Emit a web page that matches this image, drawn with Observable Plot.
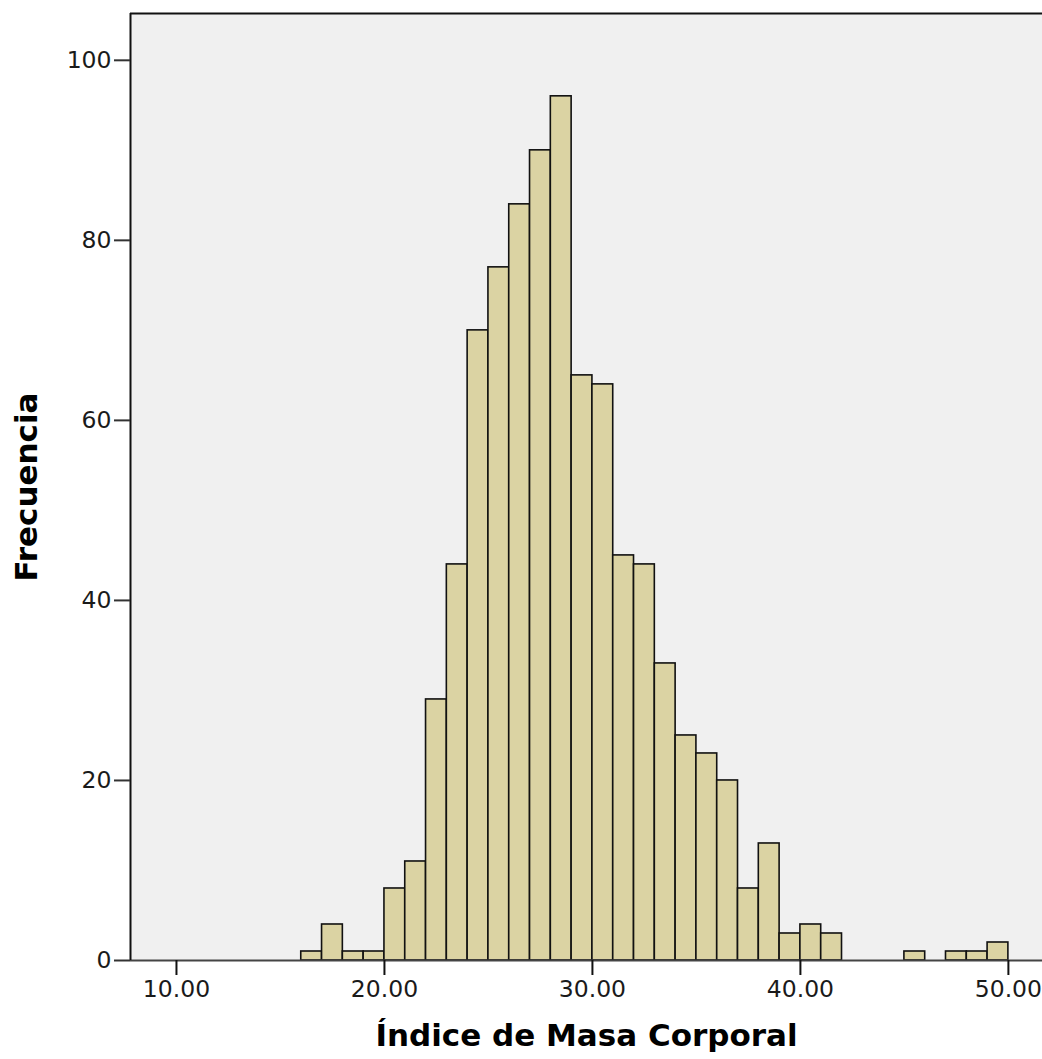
<!DOCTYPE html>
<html>
<head>
<meta charset="utf-8">
<script src="https://cdn.jsdelivr.net/npm/d3@7"></script>
<script src="https://cdn.jsdelivr.net/npm/@observablehq/plot@0.6"></script>
<style>
  html, body { margin: 0; padding: 0; background: #ffffff; }
  #chart svg { display: block; }
</style>
</head>
<body>
<div id="chart"></div>
<script>
// Bin lower edges (bin width = 1) and frequencies
const binStart = [16,17,18,19,20,21,22,23,24,25,26,27,28,29,30,31,32,33,34,35,36,37,38,39,40,41,42,43,44,45,46,47,48,49];
const counts   = [ 1, 4, 1, 1, 8,11,29,44,70,77,84,90,96,65,64,45,44,33,25,23,20, 8,13, 3, 4, 3, 0, 0, 0, 1, 0, 1, 1, 2];
const binWidth = 1;

const xTicks = [10, 20, 30, 40, 50];
const yTicks = [0, 20, 40, 60, 80, 100];
const xDomain = [7.79, 51.64];
const yDomain = [0, 105.2];

const xTitle = "Índice de Masa Corporal";
const yTitle = "Frecuencia";

const bins = binStart.map((b, i) => ({x1: b, x2: b + binWidth, count: counts[i]}))
  .filter(d => d.count > 0);

const fmt = d3.format(".2f");

const chart = Plot.plot({
  width: 1042,
  height: 1059,
  marginLeft: 130,
  marginRight: 0,
  marginTop: 13,
  marginBottom: 99,
  style: {fontFamily: "DejaVu Sans", fontSize: "23.5px", color: "#1a1a1a", background: "#ffffff"},
  x: {domain: xDomain, ticks: xTicks, tickFormat: fmt},
  y: {domain: yDomain, ticks: yTicks},
  marks: [
    Plot.frame({fill: "#f0f0f0", stroke: null}),
    Plot.rectY(bins, {x1: "x1", x2: "x2", y: "count", fill: "#dbd3a3", stroke: "#111", strokeWidth: 1.6}),
    Plot.ruleY([0], {stroke: "#444", strokeWidth: 2}),
    Plot.ruleX([xDomain[0]], {stroke: "#111", strokeWidth: 2}),
    Plot.ruleY([yDomain[1]], {stroke: "#111", strokeWidth: 2}),
    Plot.axisX({ticks: xTicks, tickFormat: fmt, tickSize: 15, tickPadding: 5, label: null, stroke: "#111", strokeWidth: 2, fontSize: 23.5}),
    Plot.axisY({ticks: yTicks, tickSize: 16, tickPadding: 3, label: null, stroke: "#333", strokeWidth: 2, fontSize: 23.5}),
    Plot.text([xTitle], {frameAnchor: "bottom", text: d => d, dy: 76, lineAnchor: "middle", textAnchor: "middle", fontSize: 31, fontWeight: "bold", fill: "#000"}),
    Plot.text([yTitle], {frameAnchor: "left", text: d => d, dx: -103, rotate: -90, lineAnchor: "middle", textAnchor: "middle", fontSize: 31, fontWeight: "bold", fill: "#000"})
  ]
});

document.getElementById("chart").appendChild(chart);
</script>
</body>
</html>
